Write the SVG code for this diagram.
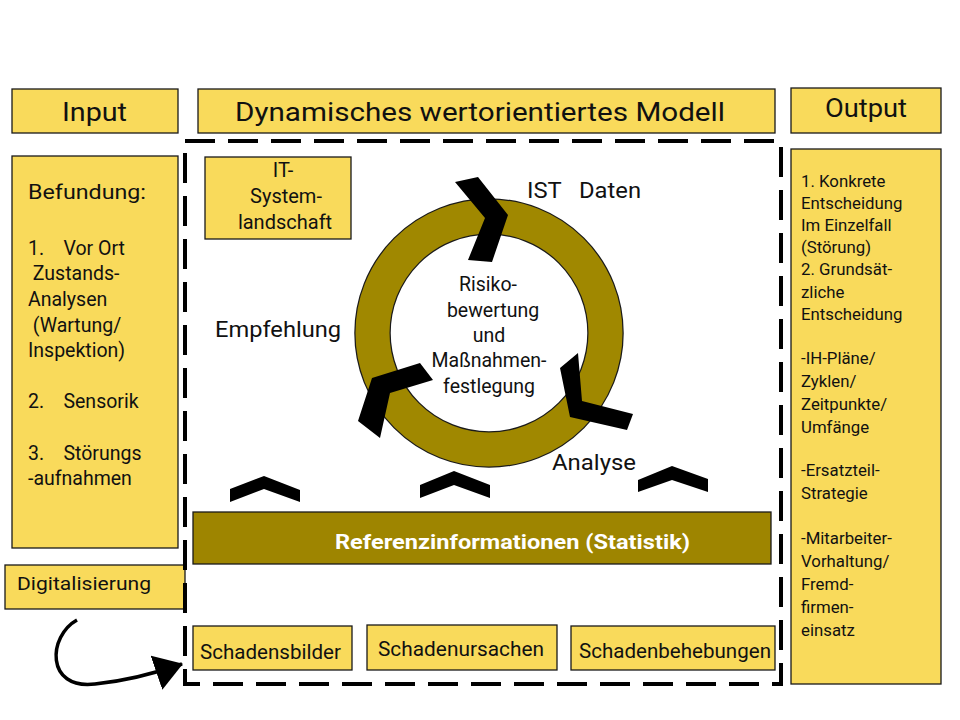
<svg xmlns="http://www.w3.org/2000/svg" width="960" height="720" viewBox="0 0 960 720">
<defs>
<style>
.box{fill:#F9DA5B;stroke:#1a1a1a;stroke-width:1.3}
.t{font-family:Roboto,"Liberation Sans",sans-serif;font-weight:400;fill:#111}
.m{text-anchor:middle}
.chev{fill:#000}
</style>
<marker id="ah" markerWidth="30" markerHeight="40" refX="27" refY="18" orient="auto" markerUnits="userSpaceOnUse" viewBox="0 0 30 40"><path d="M0,0 L28,18 L0,36 z" fill="#000"/></marker>
</defs>
<rect width="960" height="720" fill="#fff"/>

<g id="input-title"><rect class="box" x="12" y="89" width="166" height="44"/><text class="t" x="62" y="121" font-size="26" textLength="65" lengthAdjust="spacingAndGlyphs">Input</text></g>
<g id="model-title"><rect class="box" x="198" y="89" width="577" height="44"/><text class="t" x="235" y="121" font-size="26" textLength="490" lengthAdjust="spacingAndGlyphs">Dynamisches wertorientiertes Modell</text></g>
<g id="output-title"><rect class="box" x="791" y="88" width="150" height="45"/><text class="t" x="825" y="117" font-size="26" textLength="82" lengthAdjust="spacingAndGlyphs">Output</text></g>

<g id="input-box"><rect class="box" x="12" y="156" width="166" height="392"/>
<text class="t" font-size="20" x="28" y="199" textLength="118" lengthAdjust="spacingAndGlyphs">Befundung:</text>
<text class="t" font-size="19.5" x="28"><tspan x="28" y="255" xml:space="preserve">1.    Vor Ort</tspan><tspan x="28" y="280" xml:space="preserve"> Zustands-</tspan><tspan x="28" y="306">Analysen</tspan><tspan x="28" y="332" xml:space="preserve"> (Wartung/</tspan><tspan x="28" y="357">Inspektion)</tspan><tspan x="28" y="408" xml:space="preserve">2.    Sensorik</tspan><tspan x="28" y="460" xml:space="preserve">3.    Störungs</tspan><tspan x="28" y="485">-aufnahmen</tspan></text>
</g>

<g id="output-box"><rect class="box" x="791" y="149" width="150" height="535"/>
<text class="t" font-size="16.8"><tspan x="801" y="187">1. Konkrete</tspan><tspan x="801" y="209">Entscheidung</tspan><tspan x="801" y="231">Im Einzelfall</tspan><tspan x="801" y="253">(Störung)</tspan><tspan x="801" y="275">2. Grundsät-</tspan><tspan x="801" y="298">zliche</tspan><tspan x="801" y="320">Entscheidung</tspan><tspan x="801" y="364">-IH-Pläne/</tspan><tspan x="801" y="387">Zyklen/</tspan><tspan x="801" y="410">Zeitpunkte/</tspan><tspan x="801" y="433">Umfänge</tspan><tspan x="801" y="476">-Ersatzteil-</tspan><tspan x="801" y="499">Strategie</tspan><tspan x="801" y="544">-Mitarbeiter-</tspan><tspan x="801" y="567">Vorhaltung/</tspan><tspan x="801" y="590">Fremd-</tspan><tspan x="801" y="613">firmen-</tspan><tspan x="801" y="636">einsatz</tspan></text>
</g>

<g id="digitalisierung"><rect class="box" x="5" y="565" width="180" height="44"/><text class="t" font-size="19" x="17" y="590" textLength="134" lengthAdjust="spacingAndGlyphs">Digitalisierung</text></g>

<g id="model-frame"><rect x="185" y="141" width="596" height="543" fill="none" stroke="#000" stroke-width="4" stroke-dasharray="30 13"/></g>

<g id="it-system"><rect class="box" x="205" y="157" width="146" height="82"/>
<text class="t m" font-size="20"><tspan x="283" y="177">IT-</tspan><tspan x="286" y="203">System-</tspan><tspan x="285" y="229">landschaft</tspan></text></g>

<g id="cycle">
<circle cx="489" cy="333" r="116.5" fill="none" stroke="#1a1a1a" stroke-width="36.5"/>
<circle cx="489" cy="333" r="116.5" fill="none" stroke="#A08800" stroke-width="34"/>
<text class="t m" font-size="19.5"><tspan x="488" y="291">Risiko-</tspan><tspan x="493" y="317">bewertung</tspan><tspan x="489" y="342">und</tspan><tspan x="489" y="367">Maßnahmen-</tspan><tspan x="489" y="393">festlegung</tspan></text>
<polygon class="chev" points="455,182 478,177 508,215 492,262 468,260 485,218"/>
<polygon class="chev" points="560,368 578,353 582,401 633,414 627,430 570,417"/>
<polygon class="chev" points="372,378 420,363 433,380 390,393 380,438 358,421"/>
</g>

<g id="labels">
<text class="t" font-size="22" x="527" y="198" xml:space="preserve" textLength="114" lengthAdjust="spacingAndGlyphs">IST   Daten</text>
<text class="t" font-size="22" x="215" y="337" textLength="126" lengthAdjust="spacingAndGlyphs">Empfehlung</text>
<text class="t" font-size="22" x="552" y="470" textLength="84" lengthAdjust="spacingAndGlyphs">Analyse</text>
</g>

<g id="up-chevrons">
<polygon class="chev" points="230,489 264,476 300,490 300,502 264,489 230,502"/>
<polygon class="chev" points="420,485 454,471 490,485 490,498 454,485 420,498"/>
<polygon class="chev" points="638,480 672,466 708,479 708,492 672,480 638,492"/>
</g>

<g id="referenz"><rect x="193" y="512" width="578" height="52" fill="#9E8500" stroke="#1a1a1a" stroke-width="1.3"/>
<text x="335" y="549" font-size="21" font-weight="bold" fill="#fff" font-family="Roboto,'Liberation Sans',sans-serif" textLength="355" lengthAdjust="spacingAndGlyphs">Referenzinformationen (Statistik)</text></g>

<g id="schadensbilder"><rect class="box" x="193" y="626" width="159" height="44"/><text class="t" font-size="19.5" x="200" y="659" textLength="141" lengthAdjust="spacingAndGlyphs">Schadensbilder</text></g>
<g id="schadenursachen"><rect class="box" x="367" y="625" width="190" height="45"/><text class="t" font-size="19.5" x="378" y="656" textLength="166" lengthAdjust="spacingAndGlyphs">Schadenursachen</text></g>
<g id="schadenbehebungen"><rect class="box" x="571" y="626" width="204" height="44"/><text class="t" font-size="19.5" x="579" y="658" textLength="192" lengthAdjust="spacingAndGlyphs">Schadenbehebungen</text></g>

<g id="connectors">
<path d="M77,620 C48,636 45,690 95,684 C125,681 150,675 182,664" fill="none" stroke="#000" stroke-width="3.5" marker-end="url(#ah)"/>
</g>
</svg>
